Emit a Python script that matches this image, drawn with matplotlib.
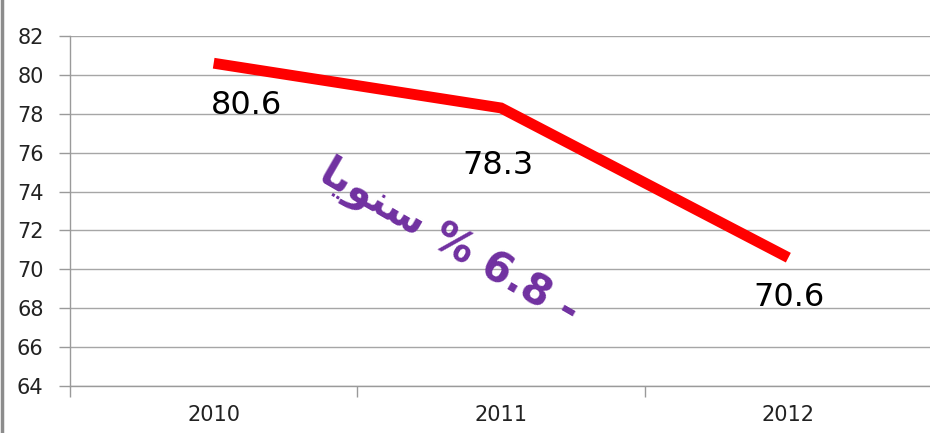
import matplotlib
matplotlib.use("Agg")
import matplotlib.pyplot as plt
from matplotlib.lines import Line2D

# data
years = ["2010", "2011", "2012"]
values = [80.6, 78.3, 70.6]
labels = ["80.6", "78.3", "70.6"]
yticks = [64, 66, 68, 70, 72, 74, 76, 78, 80, 82]
# Arabic text in visual order with presentation forms (no shaping in matplotlib)
note = "\uFE8E\uFEF3\uFEEE\uFEE8\uFEB3 % 6.8 -"

fig = plt.figure(figsize=(9.3, 4.33), dpi=100)
ax = fig.add_axes([70 / 930, 1 - 386 / 433, 862 / 930, 350 / 433])

x = list(range(len(years)))
ax.plot(x, values, color="#FF0000", linewidth=7.8, solid_joinstyle="miter",
        solid_capstyle="butt", zorder=3)

ax.set_xlim(-0.5, 2.5)
ax.set_ylim(64, 82)
ax.set_yticks(yticks)
ax.set_xticks(x)
ax.set_xticklabels(years)
ax.set_xticks([-0.5, 0.5, 1.5, 2.5], minor=True)

ax.tick_params(axis="x", which="major", length=0, pad=14, labelsize=15,
               labelcolor="#222222", labelfontfamily="Liberation Sans Narrow")
ax.tick_params(axis="x", which="minor", length=8, color="#9a9a9a", width=1)
ax.tick_params(axis="y", length=8, color="#9a9a9a", width=1, pad=11,
               labelsize=15, labelcolor="#222222",
               labelfontfamily="Liberation Sans Narrow")

ax.grid(axis="y", color="#a6a6a6", linewidth=1)
ax.set_axisbelow(True)
for s in ["top", "right"]:
    ax.spines[s].set_visible(False)
for s in ["left", "bottom"]:
    ax.spines[s].set_color("#9a9a9a")
    ax.spines[s].set_linewidth(1)

# data labels
offsets = [(33, -42), (-3, -58), (1, -40)]
for xi, v, lab, off in zip(x, values, labels, offsets):
    ax.annotate(lab, (xi, v), xytext=off, textcoords="offset pixels",
                ha="center", va="center", fontsize=23, color="#000000",
                family="DejaVu Sans")

# rotated annotation
ax.text(1 - 52 / 287, 82 - (243 - 36) / 19.44, note, rotation=-30,
        rotation_mode="anchor", ha="center", va="center", fontsize=30,
        fontweight="bold", color="#7030A0", family=["DejaVu Sans"])

# left frame line
fig.add_artist(Line2D([0.002, 0.002], [0, 1], color="#8c8c8c", linewidth=2.5,
                      transform=fig.transFigure))

fig.savefig("out.png", dpi=100)
